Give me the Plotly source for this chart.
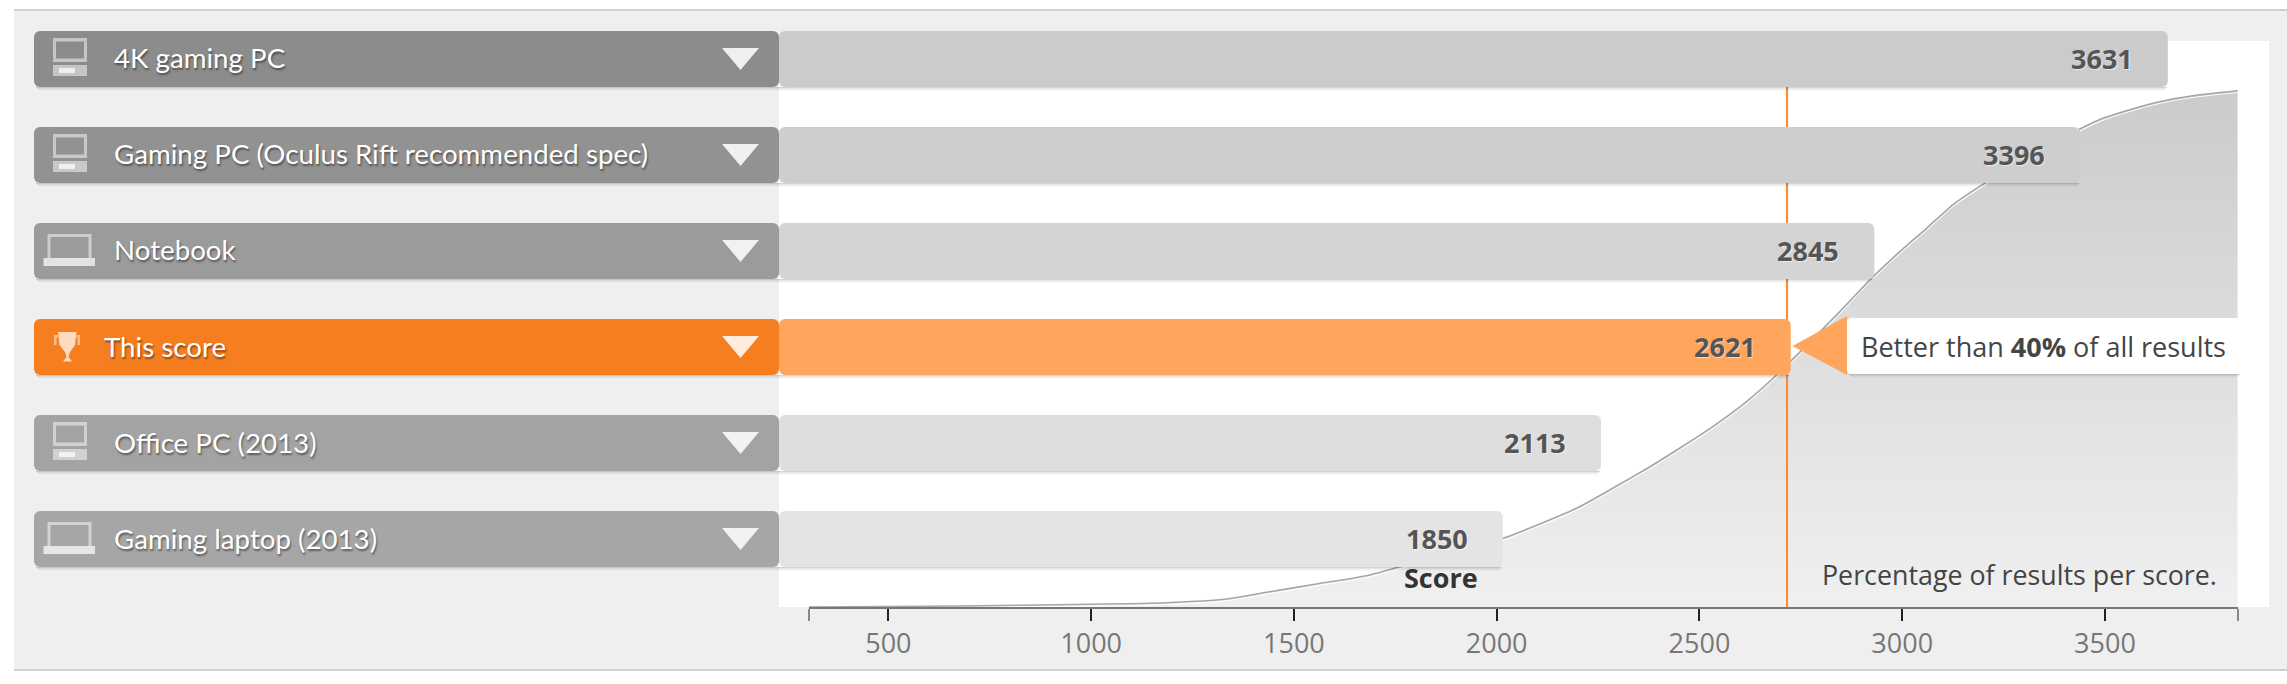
import plotly.graph_objects as go

W, H = 2287, 684

categories = ["4K gaming PC", "Gaming PC (Oculus Rift recommended spec)", "Notebook",
              "This score", "Office PC (2013)", "Gaming laptop (2013)"]
scores = [3631, 3396, 2845, 2621, 2113, 1850]
bar_colors = ["#cbcbcb", "#cecece", "#d4d4d4", "#ffa55c", "#dedede", "#e4e4e4"]
label_colors = ["#8c8c8c", "#929292", "#9b9b9b", "#f57e20", "#a3a3a3", "#a6a6a6"]
icons = ["desktop", "desktop", "laptop", "trophy", "desktop", "laptop"]

curve_score = [303, 677, 997, 1186, 1334, 1433, 1556, 1679, 1757, 2016, 2106, 2197, 2286, 2378, 2451,
               2533, 2616, 2690, 2846, 2924, 2994, 3060, 3124, 3203, 3437, 3495, 3553, 3634, 3716, 3827]
curve_pct = [0, 0.2, 0.52, 0.83, 1.55, 2.85, 4.45, 6.06, 7.69, 13.3, 16.08, 19.12, 22.99, 27.17, 30.74,
             34.92, 39.76, 44.93, 57.2, 63.66, 68.82, 73.35, 77.86, 82.06, 92.52, 94.65, 96.13, 97.87, 99.03, 100]
this_score_marker = 2716
tick_vals = [500, 1000, 1500, 2000, 2500, 3000, 3500]
tick_labels = ["500", "1000", "1500", "2000", "2500", "3000", "3500"]
axis_ends = [303, 3829]

# pixel geometry helpers
px = lambda x: x / W
py = lambda y: 1 - y / H
BAR_ZERO, BAR_SCALE = 812.0, 0.3734          # px of score 0, px per score on the bar scale
bv = lambda p: (p - BAR_ZERO) / BAR_SCALE
ROW0, PITCH, BAR_H = 59, 96, 56
row_y = [ROW0 + PITCH * i for i in range(6)]
PLOT_TOP, PLOT_BOT = 41, 607
PCT_PX = (607 - 90.7) / 100

fig = go.Figure()

# distribution curve on the score axis
LINE = dict(shape="spline", smoothing=0.5)
fig.add_trace(go.Scatter(
    x=curve_score, y=curve_pct, mode="none",
    fill="tozeroy", fillgradient=dict(type="vertical", colorscale=[[0, "#f0f0f0"], [1, "#cbcbcb"]]),
    line=LINE, hoverinfo="skip", showlegend=False, xaxis="x", yaxis="y"))
fig.add_trace(go.Scatter(
    x=curve_score, y=[max(v - 0.35, 0) for v in curve_pct], mode="lines",
    line=dict(color="rgba(255,255,255,0.9)", width=1.2, **LINE), hoverinfo="skip", showlegend=False, xaxis="x", yaxis="y"))
fig.add_trace(go.Scatter(
    x=curve_score, y=curve_pct, mode="lines",
    line=dict(color="#a6a6a6", width=1.6, **LINE), hoverinfo="skip", showlegend=False, xaxis="x", yaxis="y"))
fig.add_trace(go.Scatter(
    x=[this_score_marker, this_score_marker], y=[0, (PLOT_BOT - PLOT_TOP) / PCT_PX], mode="lines",
    line=dict(color="#f58a35", width=2), hoverinfo="skip", showlegend=False, xaxis="x", yaxis="y"))

# bars and their label panels on the bar scale
base_right = bv(779)
fig.add_trace(go.Bar(
    y=categories, x=[s - base_right for s in scores], base=base_right, orientation="h",
    marker=dict(color=bar_colors, line_width=0), width=BAR_H / PITCH,
    hoverinfo="skip", showlegend=False, xaxis="x2", yaxis="y2"))
fig.add_trace(go.Bar(
    y=categories, x=[bv(34) - base_right] * 6, base=base_right, orientation="h",
    marker=dict(color=label_colors, line_width=0), width=BAR_H / PITCH,
    hoverinfo="skip", showlegend=False, xaxis="x2", yaxis="y2"))


def rect(x0, y0, x1, y1, color, layer="above"):
    return dict(type="rect", xref="paper", yref="paper", x0=px(x0), x1=px(x1), y0=py(y0), y1=py(y1),
                fillcolor=color, line=dict(width=0), layer=layer)


def path(points, color, layer="above"):
    d = "M" + " L".join(f"{px(a):.5f},{py(b):.5f}" for a, b in points) + " Z"
    return dict(type="path", xref="paper", yref="paper", path=d, fillcolor=color, line=dict(width=0), layer=layer)


def rounded(x0, y0, x1, y1, r, color):
    P = lambda a, b: f"{px(a):.5f},{py(b):.5f}"
    d = (f"M{P(x0 + r, y0)} L{P(x1 - r, y0)} Q{P(x1, y0)} {P(x1, y0 + r)} L{P(x1, y1 - r)} Q{P(x1, y1)} {P(x1 - r, y1)} "
         f"L{P(x0 + r, y1)} Q{P(x0, y1)} {P(x0, y1 - r)} L{P(x0, y0 + r)} Q{P(x0, y0)} {P(x0 + r, y0)} Z")
    return dict(type="path", xref="paper", yref="paper", path=d, fillcolor=color, line=dict(width=0), layer="above")


def soft_shadow(x0, x1, y):
    out = []
    for k, a in enumerate([0.17, 0.10, 0.05, 0.02]):
        out.append(rect(x0 + k, y + k, x1 - 1 - k, y + k + 1, f"rgba(0,0,0,{a})"))
    return out


shapes = [
    rect(14, 11, W, 670, "#efefef", "below"),
    rect(14, 9, W, 11, "#cfcfcf", "below"),
    rect(14, 669, W, 671, "#cfcfcf", "below"),
    rect(779, PLOT_TOP, 2269, PLOT_BOT, "#ffffff", "below"),
]

ICON = "rgba(255,255,255,0.5)"
ICON_B = "rgba(255,255,255,0.72)"
for i, yc in enumerate(row_y):
    end = BAR_ZERO + scores[i] * BAR_SCALE
    top = yc - 28
    shapes += soft_shadow(36, end, yc + 28)
    shapes.append(path([(722, yc - 11), (759, yc - 11), (740.5, yc + 11)], "rgba(255,255,255,0.86)"))
    kind = icons[i]
    if kind == "desktop":
        shapes += [rect(53, top + 7, 87, top + 10.5, ICON), rect(53, top + 10.5, 56, top + 27.5, ICON),
                   rect(84, top + 10.5, 87, top + 27.5, ICON), rect(53, top + 27.5, 87, top + 31, ICON),
                   rect(53, top + 34, 87, top + 45, ICON), rect(59, top + 37, 75, top + 42, ICON_B)]
    elif kind == "laptop":
        shapes += [rect(47.5, top + 11, 91.5, top + 14, ICON), rect(47.5, top + 14, 50.5, top + 35, ICON),
                   rect(88.5, top + 14, 91.5, top + 35, ICON), rect(43.5, top + 35, 95, top + 43, ICON_B)]
    else:
        shapes += [rect(54, top + 16, 58, top + 18.5, ICON), rect(54, top + 18.5, 56.5, top + 26, ICON),
                   rect(76.5, top + 16, 80, top + 18.5, ICON), rect(77.5, top + 18.5, 80, top + 26, ICON),
                   path([(58, top + 13), (76.5, top + 13), (75, top + 26), (70, top + 33), (68.5, top + 38), (72, top + 42.5),
                         (63, top + 42.5), (66.5, top + 38), (65, top + 33), (59.5, top + 26)], ICON_B)]

# tooltip
TIP = row_y[3]
shapes += soft_shadow(1849, 2241, TIP + 27)
shapes.append(path([(1792.5, TIP - 1), (1847, TIP - 31), (1847, TIP + 28)], "#ffa55c"))
shapes.append(rounded(1847, TIP - 29, 2241, TIP + 27, 5, "#ffffff"))

TSH = "1px 2px 2px rgba(0,0,0,0.45)"
annotations = []
for i, cat in enumerate(categories):
    annotations.append(dict(
        xref="paper", yref="paper", x=px(102 if icons[i] == "trophy" else 112), y=py(row_y[i] - 1), text=cat, showarrow=False,
        xanchor="left", yanchor="middle", font=dict(family="Lato", size=27.7, color="#ffffff", shadow=TSH)))
    annotations.append(dict(
        xref="x2", yref="y2", x=scores[i], y=cat, text=f"<b>{scores[i]}</b>", showarrow=False, xanchor="right",
        yanchor="middle", xshift=-33, yshift=1, font=dict(family="Open Sans", size=27, color="#555555",
                                                          shadow="1px 1px 1px rgba(255,255,255,0.6)")))


def note(text, x, y, size, color, anchor="left"):
    annotations.append(dict(xref="paper", yref="paper", x=px(x), y=py(y), text=text, showarrow=False, xanchor=anchor,
                            yanchor="middle", font=dict(family="Open Sans", size=size, color=color)))


note("<b>Score</b>", 1441, 577, 27, "#333333", "center")
note("Percentage of results per score.", 2219, 574, 26.8, "#444444", "right")
note("Better than <b>40%</b> of all results", 2228, TIP - 1, 27, "#444444", "right")

fig.update_layout(
    width=W, height=H, margin=dict(l=0, r=0, t=0, b=0), paper_bgcolor="#ffffff", plot_bgcolor="rgba(0,0,0,0)",
    barcornerradius=6, barmode="overlay", shapes=shapes, annotations=annotations, showlegend=False,
    xaxis=dict(domain=[px(808.5), px(2238.4)], range=axis_ends, anchor="y", tickmode="array", tickvals=tick_vals,
               ticktext=tick_labels, ticks="outside", ticklen=12, tickwidth=2, tickcolor="#222222", showgrid=False,
               zeroline=False, showline=True, linecolor="#777777", linewidth=2,
               tickfont=dict(family="Open Sans", size=27, color="#777777"),
               minor=dict(tickmode="array", tickvals=axis_ends, ticks="outside", ticklen=12, tickwidth=2, tickcolor="#888888")),
    yaxis=dict(domain=[py(PLOT_BOT), py(PLOT_TOP)], range=[0, (PLOT_BOT - PLOT_TOP) / PCT_PX], visible=False, anchor="x"),
    xaxis2=dict(domain=[0, 1], range=[bv(0), bv(W)], visible=False, anchor="y2"),
    yaxis2=dict(domain=[0, 1], range=[(H - ROW0) / PITCH, -ROW0 / PITCH], visible=False, anchor="x2",
                type="category", categoryorder="array", categoryarray=categories),
)

fig.write_html("out.html", config=dict(displayModeBar=False), post_script="document.body.style.margin='0';")
